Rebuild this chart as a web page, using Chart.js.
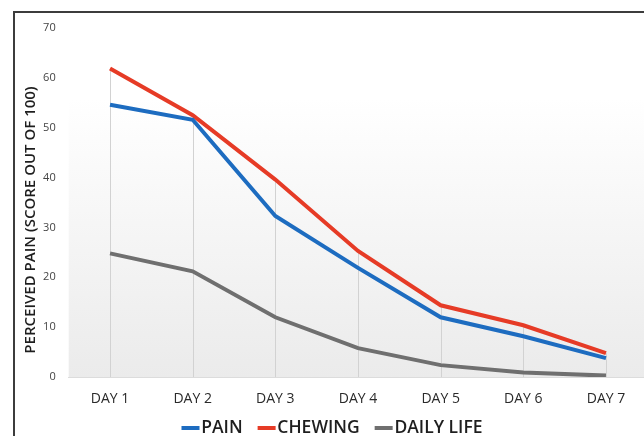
<!DOCTYPE html>
<html>
<head>
<meta charset="utf-8">
<script src="https://cdn.jsdelivr.net/npm/chart.js@4/dist/chart.umd.min.js"></script>
<style>
  html, body { margin: 0; padding: 0; background: #fff; overflow: hidden; }
  #frame { position: absolute; left: 13px; top: 11px; width: 700px; height: 500px;
           border-left: 2px solid #3c3c3c; border-top: 2px solid #3c3c3c; }
  #wrap { position: absolute; left: 0; top: 0; width: 648px; height: 436px; }
</style>
</head>
<body>
<div id="frame"></div>
<div id="wrap"><canvas id="chart"></canvas></div>
<script>
// Days of the follow-up week
const days = ['DAY 1', 'DAY 2', 'DAY 3', 'DAY 4', 'DAY 5', 'DAY 6', 'DAY 7'];

// Perceived pain scores (out of 100)
const pain      = [54.6, 51.6, 32.3, 21.9, 12.0, 8.2, 3.8];
const chewing   = [61.9, 52.5, 39.6, 25.3, 14.4, 10.4, 4.8];
const dailyLife = [24.8, 21.2, 12.0, 5.8, 2.4, 0.9, 0.3];

// Y axis ticks
const yTicks = [0, 10, 20, 30, 40, 50, 60, 70];
const yTitle = 'PERCEIVED PAIN (SCORE OUT OF 100)';

const FONT = "'Open Sans', 'Noto Sans', sans-serif";

// Soft grey gradient behind the plot area
const plotBackground = {
  id: 'plotBackground',
  beforeDraw(chart) {
    const { ctx, chartArea: a } = chart;
    const g = ctx.createLinearGradient(0, a.top, 0, a.bottom);
    g.addColorStop(0, '#ffffff');
    g.addColorStop(0.2, '#ffffff');
    g.addColorStop(1, '#ebebeb');
    ctx.save();
    ctx.fillStyle = g;
    ctx.fillRect(a.left, a.top, a.right - a.left, a.bottom - a.top);
    ctx.restore();
  }
};

// Thin drop lines from the highest point of each day down to zero
const dropLines = {
  id: 'dropLines',
  beforeDatasetsDraw(chart) {
    const { ctx, scales: { x, y } } = chart;
    const base = y.getPixelForValue(0);
    ctx.save();
    ctx.strokeStyle = '#d2d2d2';
    ctx.lineWidth = 1;
    days.forEach((d, i) => {
      const top = Math.max(...chart.data.datasets.map(ds => ds.data[i]));
      const px = Math.round(x.getPixelForValue(i)) + 0.5;
      ctx.beginPath();
      ctx.moveTo(px, y.getPixelForValue(top));
      ctx.lineTo(px, base);
      ctx.stroke();
    });
    ctx.restore();
  }
};

// Rotated y-axis title
const yAxisTitle = {
  id: 'yAxisTitle',
  afterDraw(chart) {
    const { ctx } = chart;
    ctx.save();
    ctx.translate(31, 220);
    ctx.rotate(-Math.PI / 2);
    ctx.font = "600 15px " + FONT;
    ctx.fillStyle = '#1e1e1e';
    ctx.textAlign = 'center';
    ctx.textBaseline = 'middle';
    ctx.fillText(yTitle, 0, 0);
    ctx.restore();
  }
};

const lineStyle = { borderWidth: 4, pointRadius: 0, pointHoverRadius: 0, tension: 0, fill: false };

new Chart(document.getElementById('chart'), {
  type: 'line',
  data: {
    labels: days,
    datasets: [
      { label: 'PAIN', data: pain, borderColor: '#1d6cc0', backgroundColor: '#1d6cc0', ...lineStyle },
      { label: 'CHEWING', data: chewing, borderColor: '#e63b26', backgroundColor: '#e63b26', ...lineStyle },
      { label: 'DAILY LIFE', data: dailyLife, borderColor: '#6f6f6f', backgroundColor: '#6f6f6f', ...lineStyle }
    ]
  },
  options: {
    responsive: true,
    maintainAspectRatio: false,
    animation: false,
    events: [],
    layout: { padding: { top: 28, right: 0.7, bottom: -10.8, left: 23.7 } },
    plugins: {
      tooltip: { enabled: false },
      legend: {
        position: 'bottom',
        labels: {
          usePointStyle: true,
          pointStyle: 'line',
          boxWidth: 4,
          boxHeight: 12.73,
          padding: 22,
          color: '#1e1e1e',
          font: { family: FONT, size: 17.5, weight: '600' }
        }
      }
    },
    scales: {
      x: {
        offset: true,
        afterFit(scale) {
          // compact axis box; labels are allowed to extend below it
          scale.height = 20.2;
          scale._computeLabelArea = () => undefined;
        },
        grid: { display: false, drawTicks: false },
        border: { display: true, color: '#dcdcdc', width: 1 },
        ticks: { color: '#2a2a2a', padding: 13.6, font: { family: FONT, size: 14 } }
      },
      y: {
        min: 0,
        max: 70,
        afterFit(scale) { scale.width = 45; },
        afterBuildTicks(scale) { scale.ticks = yTicks.map(v => ({ value: v })); },
        grid: { display: false, drawTicks: false },
        border: { display: false },
        ticks: { color: '#444', padding: 13, font: { family: FONT, size: 11 } }
      }
    }
  },
  plugins: [plotBackground, dropLines, yAxisTitle]
});
</script>
</body>
</html>
